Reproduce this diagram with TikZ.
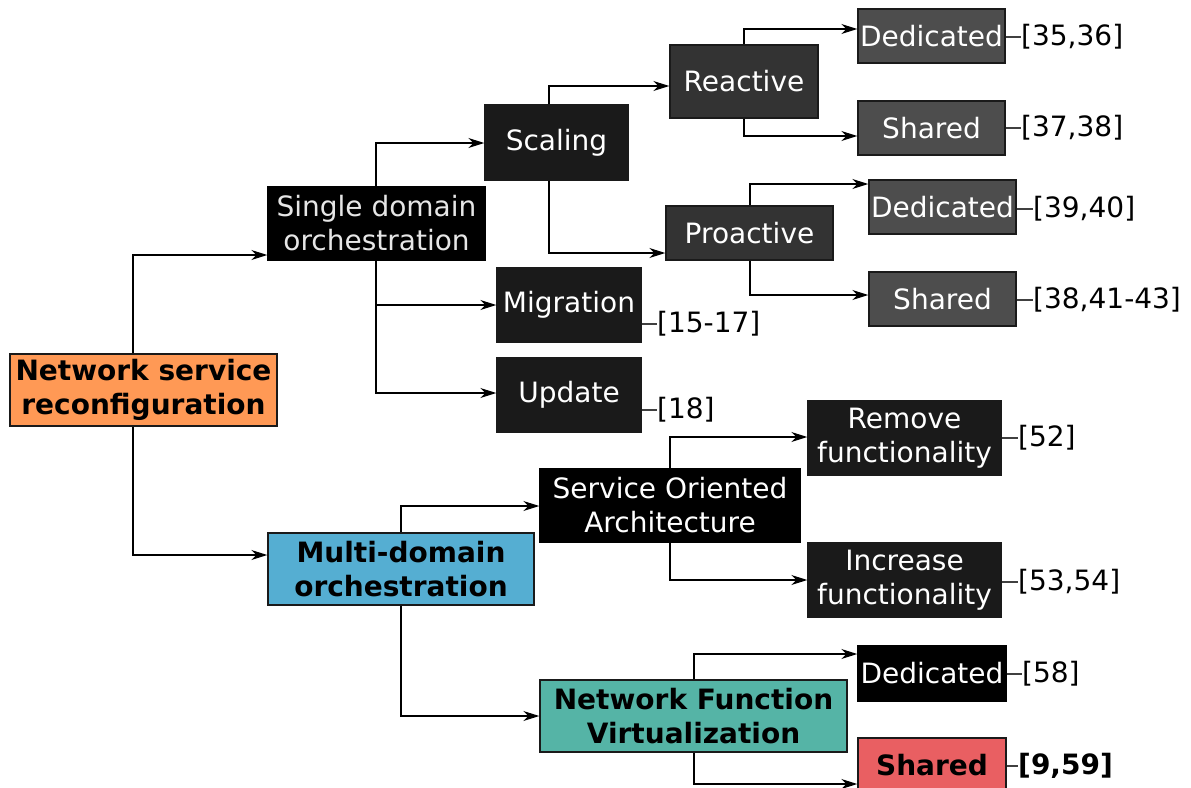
\documentclass[tikz,border=0pt]{standalone}
\usepackage{fontspec}
\setmainfont{DejaVu Sans}
\usetikzlibrary{arrows.meta}
\definecolor{cOrange}{HTML}{FF9955}
\definecolor{cBlue}{HTML}{55AED2}
\definecolor{cTeal}{HTML}{55B4A6}
\definecolor{cRed}{HTML}{E95F62}
\definecolor{cK1}{HTML}{1A1A1A}
\definecolor{cK3}{HTML}{333333}
\definecolor{cK4}{HTML}{4D4D4D}
\definecolor{cLite}{HTML}{E6E6E6}
\tikzset{
  box/.style={draw=cK1, line width=1.4pt, inner sep=0pt, align=center,
    font=\fontsize{28}{34}\selectfont, text=white},
  boldbox/.style={box, text=black, font=\fontsize{28}{34}\selectfont\bfseries},
  arr/.style={draw=black, line width=1.2pt, -{Stealth[length=16pt,width=10pt,inset=5pt]}},
  lab/.style={inner sep=0pt, anchor=west, font=\fontsize{28}{34}\selectfont},
  ll/.style={draw=black!75, line width=1.2pt}
}
\begin{document}
\begin{tikzpicture}[x=1pt,y=-1pt]
\useasboundingbox (0,0) rectangle (1191,787);
% nodes
\node[boldbox, fill=cOrange, minimum width=267pt, minimum height=72pt] (nsr) at (143.5,390) {Network service\\reconfiguration};
\node[box, fill=black, draw=black, text=cLite, minimum width=217pt, minimum height=73pt] (sd) at (376.5,223.5) {Single domain\\orchestration};
\node[boldbox, fill=cBlue, minimum width=266pt, minimum height=72pt] (md) at (401,569) {Multi-domain\\orchestration};
\node[box, fill=cK1, minimum width=143pt, minimum height=75pt] (sc) at (556.5,142.5) {Scaling};
\node[box, fill=cK1, minimum width=144pt, minimum height=74pt] (mig) at (569,305) {Migration};
\node[box, fill=cK1, minimum width=144pt, minimum height=74pt] (upd) at (569,395) {Update};
\node[box, fill=cK3, minimum width=148pt, minimum height=73pt] (re) at (744,81.5) {Reactive};
\node[box, fill=cK3, minimum width=167pt, minimum height=54pt] (pro) at (749.5,233) {Proactive};
\node[box, fill=cK4, minimum width=147pt, minimum height=54pt] (d1) at (931.5,36) {Dedicated};
\node[box, fill=cK4, minimum width=147pt, minimum height=54pt] (s1) at (931.5,128) {Shared};
\node[box, fill=cK4, minimum width=147pt, minimum height=54pt] (d2) at (942.5,207) {Dedicated};
\node[box, fill=cK4, minimum width=147pt, minimum height=54pt] (s2) at (942.5,299) {Shared};
\node[box, fill=black, draw=black, minimum width=260pt, minimum height=73pt] (soa) at (670,505.5) {Service Oriented\\Architecture};
\node[box, fill=cK1, minimum width=193pt, minimum height=74pt] (rm) at (904.5,438) {Remove\\functionality};
\node[box, fill=cK1, minimum width=193pt, minimum height=74pt] (inc) at (904.5,580) {Increase\\functionality};
\node[boldbox, fill=cTeal, minimum width=307pt, minimum height=72pt] (nfv) at (693.5,716) {Network Function\\Virtualization};
\node[box, fill=black, draw=black, minimum width=148pt, minimum height=55pt] (d3) at (932,673.5) {Dedicated};
\node[boldbox, fill=cRed, minimum width=148pt, minimum height=54pt] (s3) at (932,765) {Shared};
% connectors
\draw[arr] (133,0 |- nsr.north) |- (sd.west |- 0,255);
\draw[arr] (133,0 |- nsr.south) |- (md.west |- 0,555);
\draw[arr] (376,0 |- sd.north) |- (sc.west |- 0,143);
\draw[arr] (376,0 |- sd.south) |- (mig.west);
\draw[arr] (376,0 |- sd.south) |- (upd.west |- 0,393);
\draw[arr] (549,0 |- sc.north) |- (re.west |- 0,86);
\draw[arr] (549,0 |- sc.south) |- (pro.west |- 0,253);
\draw[arr] (744,0 |- re.north) |- (d1.west |- 0,29);
\draw[arr] (744,0 |- re.south) |- (s1.west |- 0,136);
\draw[arr] (750,0 |- pro.north) |- (d2.west |- 0,184);
\draw[arr] (750,0 |- pro.south) |- (s2.west |- 0,295);
\draw[arr] (401,0 |- md.north) |- (soa.west |- 0,506);
\draw[arr] (401,0 |- md.south) |- (nfv.west);
\draw[arr] (670,0 |- soa.north) |- (rm.west |- 0,437);
\draw[arr] (670,0 |- soa.south) |- (inc.west);
\draw[arr] (694,0 |- nfv.north) |- (d3.west |- 0,654);
\draw[arr] (694,0 |- nfv.south) |- (s3.west |- 0,784);
% labels
\node[lab] (l1) at (1021,37) {[35,36]};
\node[lab] (l2) at (1021,128) {[37,38]};
\node[lab] (l3) at (1033,209) {[39,40]};
\node[lab] (l4) at (1033,300) {[38,41-43]};
\node[lab] (l5) at (657,324) {[15-17]};
\node[lab] (l6) at (657,410) {[18]};
\node[lab] (l7) at (1018,438) {[52]};
\node[lab] (l8) at (1018,582) {[53,54]};
\node[lab] (l9) at (1022,674) {[58]};
\node[lab, font=\fontsize{28}{34}\selectfont\bfseries] (l10) at (1018,766) {[9,59]};
\draw[ll] (d1.east |- l1.west) -- (l1.west);
\draw[ll] (s1.east |- l2.west) -- (l2.west);
\draw[ll] (d2.east |- l3.west) -- (l3.west);
\draw[ll] (s2.east |- l4.west) -- (l4.west);
\draw[ll] (mig.east |- l5.west) -- (l5.west);
\draw[ll] (upd.east |- l6.west) -- (l6.west);
\draw[ll] (rm.east |- l7.west) -- (l7.west);
\draw[ll] (inc.east |- l8.west) -- (l8.west);
\draw[ll] (d3.east |- l9.west) -- (l9.west);
\draw[ll] (s3.east |- l10.west) -- (l10.west);
\end{tikzpicture}
\end{document}
